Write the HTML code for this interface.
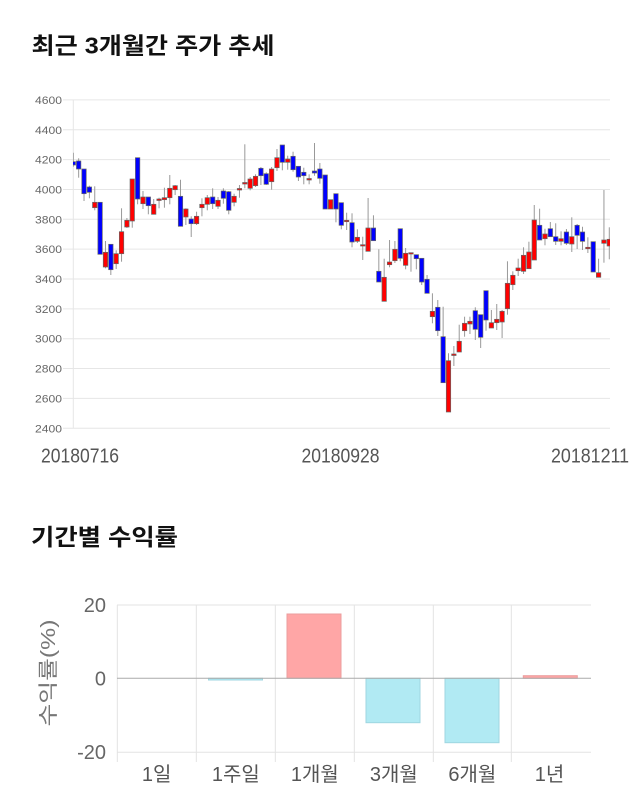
<!DOCTYPE html>
<html>
<head>
<meta charset="utf-8">
<style>
html,body{margin:0;padding:0;background:#fff;}
svg{display:block;}
</style>
</head>
<body>
<svg width="640" height="810" viewBox="0 0 640 810" xmlns="http://www.w3.org/2000/svg">
<rect width="640" height="810" fill="#fff"/>
<text x="31.5" y="53.5" font-family="'Liberation Sans','Noto Sans CJK KR',sans-serif" font-weight="bold" font-size="23" fill="#111" textLength="243" lengthAdjust="spacingAndGlyphs">최근 3개월간 주가 추세</text>

<g id="grid" stroke="#e6e6e6" stroke-width="1">
</g>
<g id="ylab" font-family="'Liberation Sans',sans-serif" font-size="11" fill="#666" text-anchor="end"></g>
<g id="candles"></g>

<g font-family="'Liberation Sans',sans-serif" font-size="20" fill="#555">
<text x="41" y="462.5" textLength="78" lengthAdjust="spacingAndGlyphs">20180716</text>
<text x="301.5" y="462.5" textLength="78" lengthAdjust="spacingAndGlyphs">20180928</text>
<text x="551" y="462.5" textLength="78" lengthAdjust="spacingAndGlyphs">20181211</text>
</g>

<text x="31" y="545" font-family="'Liberation Sans','Noto Sans CJK KR',sans-serif" font-weight="bold" font-size="23" fill="#111" textLength="147" lengthAdjust="spacingAndGlyphs">기간별 수익률</text>

<!-- bottom chart grid -->
<g stroke="#e3e3e3" stroke-width="1">
<line x1="117" y1="605" x2="591" y2="605"/>
<line x1="117" y1="752.3" x2="591" y2="752.3"/>
<line x1="117.3" y1="605" x2="117.3" y2="762"/>
<line x1="196.3" y1="605" x2="196.3" y2="762"/>
<line x1="275.3" y1="605" x2="275.3" y2="762"/>
<line x1="354.3" y1="605" x2="354.3" y2="762"/>
<line x1="433.3" y1="605" x2="433.3" y2="762"/>
<line x1="511.3" y1="605" x2="511.3" y2="762"/>
</g>
<g stroke-width="1">
<rect x="208.5" y="678.3" width="54" height="1.7" fill="#b1eaf3" stroke="#9fd6e0"/>
<rect x="287" y="614" width="54" height="64.3" fill="#ffa6a6" stroke="#eb9d9d"/>
<rect x="366" y="678.3" width="54" height="44.4" fill="#b1eaf3" stroke="#9fd6e0"/>
<rect x="445" y="678.3" width="54" height="64.4" fill="#b1eaf3" stroke="#9fd6e0"/>
<rect x="523.3" y="675.7" width="54" height="2.6" fill="#ffa6a6" stroke="#eb9d9d"/>
</g>
<line x1="117" y1="678.3" x2="591" y2="678.3" stroke="#aaa" stroke-width="1"/>

<g font-family="'Liberation Sans',sans-serif" font-size="20" fill="#666" text-anchor="end">
<text x="106" y="612">20</text>
<text x="106" y="685.5">0</text>
<text x="106" y="759">-20</text>
</g>
<text transform="translate(55,673) rotate(-90)" text-anchor="middle" font-family="'Liberation Sans','Noto Sans CJK KR',sans-serif" font-size="20" fill="#777" textLength="107" lengthAdjust="spacingAndGlyphs">수익률(%)</text>
<g font-family="'Liberation Sans','Noto Sans CJK KR',sans-serif" font-size="20" fill="#555" text-anchor="middle">
<text x="156.7" y="781">1일</text>
<text x="235.8" y="781">1주일</text>
<text x="314.8" y="781">1개월</text>
<text x="393.8" y="781">3개월</text>
<text x="472.3" y="781">6개월</text>
<text x="549.5" y="781">1년</text>
</g>
</svg>
<script>
(function(){
var NS="http://www.w3.org/2000/svg";
function el(tag,attrs,parent,txt){var e=document.createElementNS(NS,tag);for(var k in attrs)e.setAttribute(k,attrs[k]);if(txt!==undefined)e.textContent=txt;parent.appendChild(e);return e;}
var grid=document.getElementById('grid'),ylab=document.getElementById('ylab'),cg=document.getElementById('candles');
var labels=[4600,4400,4200,4000,3800,3600,3400,3200,3000,2800,2600,2400];
for(var k=0;k<12;k++){
 var y=99.9+k*29.85;
 el('line',{x1:63,y1:y,x2:610,y2:y},grid);
 el('text',{x:62,y:y+4,textLength:27,lengthAdjust:'spacingAndGlyphs'},ylab,String(labels[k]));
}
el('line',{x1:73.3,y1:99.9,x2:73.3,y2:428.3},grid);
var d=[
[161.7,165,152.7,166.7,'b'],[161,169,158.3,177.7,'b'],[169,193.7,169,201,'b'],[187,192.3,185.7,198.3,'b'],
[202.3,207.7,186.3,210.3,'r'],[202.3,254.3,202.3,254.3,'b'],[252.3,267,241,268.3,'r'],[244.3,269.7,244.3,275,'b'],
[253.7,263.7,250.3,269,'r'],[231.7,253.7,208.3,261.7,'r'],[220.3,227,218,228,'r'],[179,221,179,227.7,'r'],
[157.7,199,157.7,204.3,'b'],[197,203.7,191,209,'r'],[197,205.7,197,214.3,'b'],[204.3,214.3,199,214.3,'r'],
[199,200.5,197.7,208.3,'r'],[197.7,199.7,187.7,207.7,'r'],[188.3,197.7,175,204.3,'r'],[185.7,189.7,185,195,'r'],
[196.3,226.3,179.7,226.3,'b'],[209,217,208.3,225,'r'],[219,223.7,216.3,237,'b'],[216.3,223.7,211.7,225,'r'],
[204.3,207.7,198.3,216.3,'r'],[197.7,204.3,195,210.3,'r'],[197,203.7,188.3,209,'b'],[200.3,206.3,197,209,'r'],
[191,198.3,188.3,203.7,'b'],[191.7,210.3,191,214.3,'b'],[196.3,202.3,193.7,206.3,'r'],[188.5,190,185,197.7,'r'],
[182.5,184,144.3,188.3,'r'],[179,188.3,177,190.3,'r'],[176.3,185.7,174.3,187,'r'],[168.3,175.7,167,185,'b'],
[173.7,184.3,172.3,185,'b'],[169,181.7,167,189.7,'r'],[157.7,167.7,149,171,'r'],[145,162.3,145,170.3,'b'],
[159,162.3,155.7,169.7,'r'],[156.3,169.7,151.7,171.7,'b'],[166.3,177,166.3,181,'b'],[172.3,175.7,167.7,184.3,'b'],
[178.5,180,174.3,184.3,'r'],[171,173,143,175.7,'b'],[169,178.3,163,183.7,'b'],[175,209,175,209,'b'],
[199.7,209,199.7,209,'r'],[193.7,209,193.7,222.3,'b'],[202.7,225.3,202.7,229.3,'b'],[220.3,221.7,212.7,230,'r'],
[222.7,242,213.3,247.3,'b'],[237.3,241.3,229.3,243,'r'],[244.7,246,236.7,260,'r'],[228,251.3,198,251.3,'r'],
[228,240.7,215.3,240.7,'b'],[271.3,282,249.3,282,'b'],[277.3,301.3,258.7,301.3,'r'],[262,264.7,240,267.3,'r'],
[249.3,260.7,241,263,'r'],[228.7,258.3,228.7,261.3,'b'],[253.3,265.3,248,269.3,'r'],[252.7,254,252.7,271.7,'r'],
[254.7,258.7,254.7,269.3,'b'],[258.3,282,258.3,285,'b'],[279.3,293.3,275,293.3,'b'],[311.3,316.7,293.3,323.3,'r'],
[307.3,330.7,300,336,'b'],[336.7,382.7,306.7,382.7,'b'],[360.7,412,353.3,412,'r'],[354,355.5,346,366,'r'],
[341.3,352,324.7,352,'r'],[323.3,330.7,316.7,336.7,'r'],[321.3,324,316.7,334,'r'],[310.7,329.3,307.3,340,'b'],
[314.7,337.3,314.7,348,'b'],[290.7,320,290.7,330.7,'b'],[322.7,328,310,328,'r'],[319.3,322.7,304,330,'r'],
[311.3,322,310,338,'r'],[283.3,308.7,261.3,314.7,'r'],[275.3,284.7,271.3,290,'r'],[268,270.7,258.7,276,'r'],
[255.3,271.3,247.3,274,'r'],[252,268.7,241.7,268.7,'r'],[220,260,205,260,'r'],[225.3,240,208.7,240,'b'],
[234,238.7,228.7,245.3,'r'],[228.7,236.7,222,236.7,'b'],[236.7,241.3,223.3,245,'b'],[238.7,241.3,231.3,245.3,'r'],
[232,243.3,229,245,'b'],[236.7,244,217.3,252,'r'],[225.3,235.3,224,249,'b'],[232,241.3,226.7,250,'b'],
[247.3,248.7,237.3,253,'r'],[241.7,272,241.7,272,'b'],[272.7,277.3,258.7,277.3,'r'],[240,243.3,190,262.7,'r'],
[239.3,246,227.3,259.3,'r']
];
var clip=el('clipPath',{id:'pc'},cg);el('rect',{x:73,y:90,width:537,height:345},clip);
var g=el('g',{'clip-path':'url(#pc)'},cg);
for(var i=0;i<d.length;i++){
 var c=d[i],x=73.3+i*5.36;
 el('line',{x1:x,y1:c[2],x2:x,y2:c[3],stroke:'#999','stroke-width':1},g);
 var h=Math.max(c[1]-c[0],1);
 el('rect',{x:x-2.2,y:c[0],width:4.4,height:h,fill:c[4]=='r'?'#ff0000':'#0000ff',stroke:'#666','stroke-width':0.7},g);
}
})();
</script>
</body>
</html>
